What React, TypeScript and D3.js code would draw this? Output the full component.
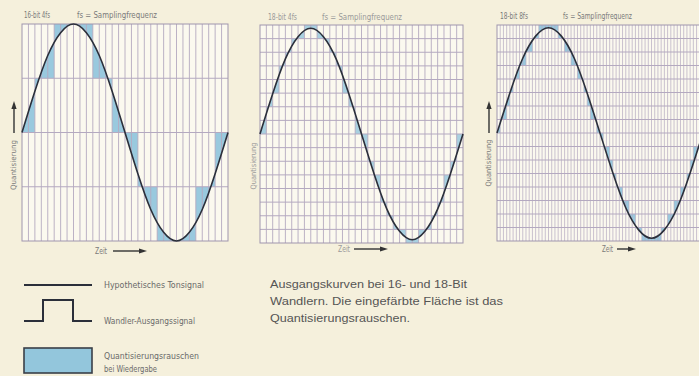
import * as d3 from "d3";

const W = 699;
const H = 376;

const panelTitles = ["16-bit 4fs", "18-bit 4fs", "18-bit 8fs"];
const fsLabel = "fs = Samplingfrequenz";
const yLabel = "Quantisierung";
const xLabel = "Zeit";

// hypothetisches Tonsignal, eine Periode, 16 Stützpunkte
const signal = [0, 0.38, 0.71, 0.92, 1, 0.92, 0.71, 0.38, 0, -0.38, -0.71, -0.92, -1, -0.92, -0.71, -0.38, 0];
// Scheitelwert der Kurve relativ zur obersten Stufe
const signalPeak = [1, 0.97, 0.975];

// Wandlerausgang pro Sample (Quantisierungsstufe)
const levels16x4 = [0, 0, 1, 1, 1, 2, 2, 2, 2, 2, 2, 1, 1, 1, 0, 0, 0, 0, -1, -1, -1, -2, -2, -2, -2, -2, -2, -1, -1, -1, 0, 0];
const levels18x4 = [0, 2, 3, 5, 6, 7, 7, 8, 8, 7, 7, 6, 5, 3, 2, 0, 0, -2, -3, -5, -6, -7, -7, -8, -8, -7, -7, -6, -5, -3, -2, 0];
const levels18x8 = [
  0, 1, 1, 2, 3, 4, 4, 5, 5, 6, 6, 7, 7, 8, 8, 8, 8, 8, 8, 7, 7, 6, 6, 5, 5, 4, 4, 3, 2, 1, 1, 0,
  0, -1, -1, -2, -3, -4, -4, -5, -5, -6, -6, -7, -7, -8, -8, -8, -8, -8, -8, -7, -7, -6, -6, -5, -5, -4, -4, -3, -2, -1, -1, 0,
];
const maxLevels = [2, 8, 8];

const legendLabels = ["Hypothetisches Tonsignal", "Wandler-Ausgangssignal", "Quantisierungsrauschen", "bei Wiedergabe"];
const caption = [
  "Ausgangskurven bei 16- und 18-Bit",
  "Wandlern. Die eingefärbte Fläche ist das",
  "Quantisierungsrauschen.",
];

const PAPER = "#f5f0dc";
const INNER = "#fbf9ef";
const GRID = "#b4a9c0";
const BLUE = "#93c6dc";
const INK = "#2b2f3a";
const NARROW = "'Liberation Sans Narrow', 'DejaVu Sans Condensed', 'Liberation Sans', sans-serif";

const panels = [
  { x0: 22, x1: 228, y0: 24, y1: 241, levels: levels16x4, max: maxLevels[0], title: [24, 18, 26], fs: [77, 18, 80],
    yl: [13, 165, 50], arrowUp: true, zeit: [95, 254, 12], zArrow: [113, 147, 251], faded: false },
  { x0: 260, x1: 463, y0: 25, y1: 243, levels: levels18x4, max: maxLevels[1], title: [268, 20, 29], fs: [322, 20, 80],
    yl: [253, 166, 47], arrowUp: false, zeit: [338, 252, 12], zArrow: [354, 388, 249], faded: true },
  { x0: 497, x1: 703, y0: 25, y1: 241, levels: levels18x8, max: maxLevels[2], title: [500, 19, 28], fs: [563, 19, 69],
    yl: [488, 163, 47], arrowUp: true, zeit: [602, 252, 11], zArrow: [617, 636, 249], faded: false },
];

type Pt = { t: number; v: number };

function Panel({ p, i }: { p: any; i: number }) {
  const x = d3.scaleLinear().domain([0, 1]).range([p.x0, p.x1]);
  const y = d3.scaleLinear().domain([-1, 1]).range([p.y1, p.y0]);
  const n = p.levels.length;
  const amp = signalPeak[i];

  const steps: Pt[] = p.levels.map((v: number, k: number) => ({ t: k / n, v: v / p.max }));
  steps.push({ t: 1, v: p.levels[n - 1] / p.max });
  const sig: Pt[] = signal.map((v, k) => ({ t: k / (signal.length - 1), v: v * amp }));

  const stepArea = d3.area<Pt>().x((d) => x(d.t)).y0(p.y0).y1((d) => y(d.v)).curve(d3.curveStepAfter);
  const sigArea = d3.area<Pt>().x((d) => x(d.t)).y0(p.y0).y1((d) => y(d.v)).curve(d3.curveNatural);
  const sigLine = d3.line<Pt>().x((d) => x(d.t)).y((d) => y(d.v)).curve(d3.curveNatural);

  // Differenzfläche zwischen Treppe und Signal (evenodd)
  const noise = (stepArea(steps) || "") + (sigArea(sig) || "");

  const cols = d3.range(1, n);
  const rows = d3.range(-p.max + 1, p.max);
  const txt = p.faded ? "#9a9a9a" : "#7a7a7a";
  const [ax0, ax1, ay] = p.zArrow;
  const [yx, yy, ylen] = p.yl;

  return (
    <g>
      <rect x={p.x0} y={p.y0} width={p.x1 - p.x0} height={p.y1 - p.y0} fill={INNER} />
      <path d={noise} fill={BLUE} fillRule="evenodd" opacity={p.faded ? 0.8 : 0.95} />
      <g stroke={GRID} strokeWidth={i === 2 ? 0.7 : 0.9}>
        {cols.map((c) => (
          <line key={"c" + c} x1={x(c / n)} x2={x(c / n)} y1={p.y0} y2={p.y1} />
        ))}
        {rows.map((r) => (
          <line key={"r" + r} x1={p.x0} x2={p.x1} y1={y(r / p.max)} y2={y(r / p.max)} strokeWidth={1} />
        ))}
      </g>
      <rect x={p.x0} y={p.y0} width={p.x1 - p.x0} height={p.y1 - p.y0} fill="none" stroke="#a095ad" strokeWidth={1} />
      <path d={sigLine(sig) || ""} fill="none" stroke={INK} strokeWidth={1.6} />

      <text x={p.title[0]} y={p.title[1]} fontSize={8} fill={txt} fontFamily={NARROW}
        textLength={p.title[2]} lengthAdjust="spacingAndGlyphs">{panelTitles[i]}</text>
      <text x={p.fs[0]} y={p.fs[1]} fontSize={8} fill={txt} fontFamily={NARROW}
        textLength={p.fs[2]} lengthAdjust="spacingAndGlyphs">{fsLabel}</text>

      <text transform={`translate(${yx + 2.5},${yy}) rotate(-90)`} textAnchor="middle" fontSize={7.5} fill={txt}
        fontFamily={NARROW} textLength={ylen} lengthAdjust="spacingAndGlyphs">{yLabel}</text>
      {p.arrowUp && (
        <g stroke="#333" fill="#333">
          <line x1={yx + 1} x2={yx + 1} y1={133} y2={107} strokeWidth={1.4} />
          <path d={`M${yx + 1},101L${yx - 1.6},109L${yx + 3.6},109Z`} stroke="none" />
        </g>
      )}

      <text x={p.zeit[0]} y={p.zeit[1]} fontSize={8} fill={txt} fontFamily={NARROW}
        textLength={p.zeit[2]} lengthAdjust="spacingAndGlyphs">{xLabel}</text>
      <g stroke="#333" fill="#333">
        <line x1={ax0} x2={ax1 - 6} y1={ay} y2={ay} strokeWidth={1.4} />
        <path d={`M${ax1},${ay}L${ax1 - 8},${ay - 2.6}L${ax1 - 8},${ay + 2.6}Z`} stroke="none" />
      </g>
    </g>
  );
}

export default function App() {
  const legendText = "#6a6a6a";
  return (
    <svg width={W} height={H} style={{ position: "absolute", left: 0, top: 0 }}>
      <rect width={W} height={H} fill={PAPER} />
      {panels.map((p, i) => (
        <Panel key={i} p={p} i={i} />
      ))}

      {/* Legende */}
      <line x1={24} x2={92} y1={285} y2={285} stroke={INK} strokeWidth={2} />
      <path d="M24,321H43V300H73V321H92" fill="none" stroke={INK} strokeWidth={2} />
      <rect x={24} y={348} width={68} height={25} fill={BLUE} stroke="#3a3f48" strokeWidth={1.6} />
      <g fontFamily={NARROW} fontSize={9} fill={legendText}>
        <text x={104} y={288} textLength={100} lengthAdjust="spacingAndGlyphs">{legendLabels[0]}</text>
        <text x={104} y={324} textLength={91} lengthAdjust="spacingAndGlyphs">{legendLabels[1]}</text>
        <text x={104} y={359} textLength={95} lengthAdjust="spacingAndGlyphs">{legendLabels[2]}</text>
        <text x={104} y={372} textLength={53} lengthAdjust="spacingAndGlyphs">{legendLabels[3]}</text>
      </g>

      {/* Bildunterschrift */}
      <g fontFamily="'Liberation Sans', Arial, sans-serif" fontSize={11} fill="#555">
        <text x={270} y={288} textLength={197} lengthAdjust="spacingAndGlyphs">{caption[0]}</text>
        <text x={270} y={305} textLength={233} lengthAdjust="spacingAndGlyphs">{caption[1]}</text>
        <text x={270} y={322} textLength={140} lengthAdjust="spacingAndGlyphs">{caption[2]}</text>
      </g>
    </svg>
  );
}
